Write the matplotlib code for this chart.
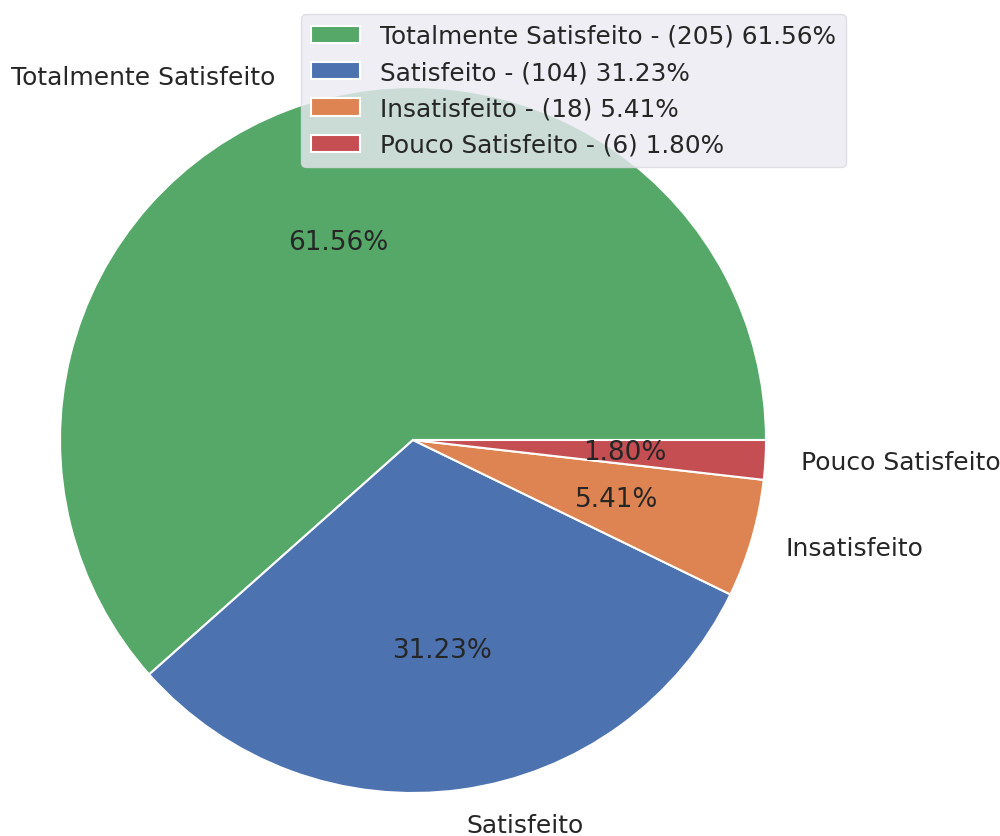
import matplotlib
matplotlib.use("Agg")
import matplotlib.pyplot as plt

categories = ["Totalmente Satisfeito", "Satisfeito", "Insatisfeito", "Pouco Satisfeito"]
counts = [205, 104, 18, 6]
colors = ["#55A868", "#4C72B0", "#DD8452", "#C44E52"]

total = sum(counts)
legend_labels = [f"{c} - ({n}) {n / total * 100:.2f}%" for c, n in zip(categories, counts)]

plt.rcParams['font.family'] = ['DejaVu Sans']
fig = plt.figure(figsize=(10, 8.37), dpi=100)
fig.patch.set_facecolor("white")
ax = fig.add_axes([0, 0, 1, 1])

wedges, texts, autotexts = ax.pie(
    counts, labels=categories, colors=colors, autopct="%.2f%%",
    startangle=0, labeldistance=1.1, pctdistance=0.6,
    wedgeprops=dict(edgecolor="white", linewidth=1.5),
    textprops=dict(color="#262626"),
)
for t in texts:
    t.set_fontsize(18)
for t in autotexts:
    t.set_fontsize(18.9)

cx, cy, r = 413, 837 - 441, 353
ax.set_aspect("auto")
ax.set_xlim(-cx / r, (1000 - cx) / r)
ax.set_ylim(-cy / r, (837 - cy) / r)
ax.axis("off")

leg = ax.legend(wedges, legend_labels, loc="upper left",
                bbox_to_anchor=(301 / 1000, 1 - 15 / 837), bbox_transform=fig.transFigure,
                borderaxespad=0, fontsize=17.8, frameon=True, facecolor="#EAEAF2",
                framealpha=0.8, edgecolor="#D8D8E0", fancybox=True)
for t in leg.get_texts():
    t.set_color("#262626")

fig.savefig("out.png", dpi=100, facecolor="white")
